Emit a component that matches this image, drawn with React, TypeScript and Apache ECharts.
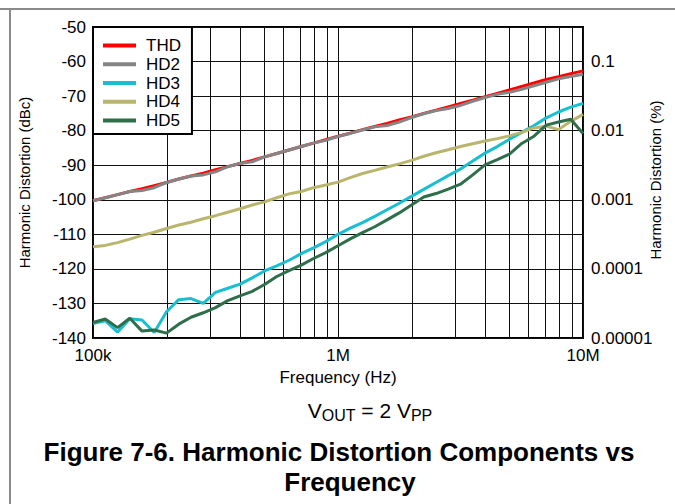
import React, { useEffect, useRef } from 'react';
import * as echarts from 'echarts';

// Frequency points (Hz)
const freqHz = [
  100000, 112200, 125900, 141300, 158500, 177800, 199500, 223900, 251200, 281800,
  316200, 354800, 398100, 446700, 501200, 562300, 631000, 707900, 794300, 891300,
  1000000, 1122000, 1259000, 1413000, 1585000, 1778000, 1995000, 2239000, 2512000, 2818000,
  3162000, 3548000, 3981000, 4467000, 5012000, 5623000, 6310000, 7079000, 7943000, 8913000,
  10000000,
];

// Harmonic distortion (dBc)
const thd = [
  -100.3, -99.4, -98.5, -97.6, -96.8, -95.9, -95.0, -94.0, -93.1, -92.3,
  -91.3, -90.4, -89.5, -88.6, -87.6, -86.6, -85.6, -84.6, -83.6, -82.6,
  -81.6, -80.7, -79.7, -78.8, -77.9, -76.9, -76.0, -75.0, -74.1, -73.1,
  -72.1, -71.2, -70.2, -69.2, -68.2, -67.2, -66.2, -65.2, -64.4, -63.5,
  -62.7,
];
const hd2 = [
  -100.3, -99.4, -98.5, -97.6, -97.3, -96.5, -95.0, -94.0, -93.1, -92.8,
  -91.9, -90.4, -89.5, -89.0, -87.6, -86.6, -85.6, -84.6, -83.6, -82.8,
  -81.7, -80.8, -79.8, -78.9, -78.5, -77.5, -76.2, -75.1, -74.2, -73.6,
  -72.7, -71.5, -70.4, -69.5, -68.9, -68.0, -67.0, -66.0, -65.0, -64.3,
  -63.7,
];
const hd3 = [
  -135.8, -135.0, -138.3, -134.4, -134.8, -138.4, -132.4, -128.9, -128.6, -130.0,
  -126.8, -125.6, -124.4, -122.6, -120.6, -119.1, -117.5, -115.6, -113.9, -112.1,
  -110.0, -108.2, -106.6, -104.8, -102.9, -101.0, -99.0, -97.0, -95.0, -93.0,
  -91.1, -88.8, -86.5, -84.6, -82.5, -80.5, -78.5, -76.3, -74.6, -73.2,
  -72.1,
];
const hd4 = [
  -113.6, -113.2, -112.4, -111.4, -110.3, -109.4, -108.3, -107.3, -106.5, -105.5,
  -104.6, -103.6, -102.6, -101.5, -100.6, -99.4, -98.3, -97.6, -96.5, -95.7,
  -94.9, -93.6, -92.4, -91.5, -90.5, -89.6, -88.6, -87.4, -86.4, -85.5,
  -84.6, -83.8, -83.0, -82.3, -81.5, -80.5, -79.2, -78.7, -79.7, -77.3,
  -75.3,
];
const hd5 = [
  -135.5, -134.5, -137.0, -134.3, -138.0, -137.7, -138.6, -136.0, -134.0, -132.7,
  -131.2, -129.2, -127.8, -126.5, -124.5, -122.2, -120.5, -118.9, -117.0, -115.3,
  -113.3, -111.3, -109.5, -107.8, -105.8, -103.8, -101.5, -99.2, -98.2, -96.9,
  -95.5, -92.8, -89.9, -88.4, -86.8, -83.7, -81.6, -78.4, -77.5, -76.7,
  -80.8,
];

// Minor (log) vertical grid positions (Hz)
const minorGridHz = [
  200000, 300000, 400000, 500000, 600000, 700000, 800000, 900000,
  2000000, 3000000, 4000000, 5000000, 6000000, 7000000, 8000000, 9000000,
];

// Tick labels
const xTickLabels: Record<string, string> = { '100000': '100k', '1000000': '1M', '10000000': '10M' };
const percentTickLabels: Record<string, string> = {
  '-60': '0.1', '-80': '0.01', '-100': '0.001', '-120': '0.0001', '-140': '0.00001',
};

const seriesNames = ['THD', 'HD2', 'HD3', 'HD4', 'HD5'];
const seriesColors = ['#ff0000', '#858585', '#17bfd1', '#b9b56c', '#2e6e4b'];
const seriesValues = [thd, hd2, hd3, hd4, hd5];

const FONT = '"Liberation Sans", Arial, Helvetica, sans-serif';

export default function App() {
  const ref = useRef<HTMLDivElement>(null);

  useEffect(() => {
    const chart = echarts.init(ref.current as HTMLDivElement, null, { renderer: 'svg' });

    const series: any[] = seriesNames.map((name, si) => ({
      name,
      type: 'line',
      data: freqHz.map((f, i) => [f, seriesValues[si][i]]),
      symbol: 'none',
      showSymbol: false,
      silent: true,
      clip: true,
      lineStyle: { color: seriesColors[si], width: 3 },
      itemStyle: { color: seriesColors[si] },
      z: 3,
    }));

    series[0].markLine = {
      silent: true,
      symbol: ['none', 'none'],
      z: 1,
      label: { show: false },
      lineStyle: { color: '#111', width: 1, type: 'solid' },
      emphasis: { disabled: true },
      data: minorGridHz.map((f) => ({ xAxis: f })),
    };

    const option: any = {
      animation: false,
      backgroundColor: '#fff',
      textStyle: { fontFamily: FONT },
      grid: {
        left: 93,
        right: 92,
        top: 27,
        height: 311,
        show: true,
        borderColor: '#000',
        borderWidth: 2,
        backgroundColor: 'transparent',
        containLabel: false,
        outerBoundsMode: 'none',
      },
      legend: {
        orient: 'vertical',
        left: 93,
        top: 27,
        data: seriesNames.map((n, i) => ({ name: n, icon: 'rect', itemStyle: { color: seriesColors[i] } })),
        backgroundColor: '#fff',
        borderColor: '#000',
        borderWidth: 2,
        borderRadius: 0,
        padding: [10, 11, 5, 10],
        itemWidth: 33,
        itemHeight: 4,
        itemGap: 1.75,
        selectedMode: false,
        textStyle: { fontFamily: FONT, fontSize: 17, color: '#000', lineHeight: 17, padding: [0, 0, 0, 5] },
        z: 10,
      },
      xAxis: {
        type: 'log',
        logBase: 10,
        min: 100000,
        max: 10000000,
        name: 'Frequency (Hz)',
        nameLocation: 'middle',
        nameGap: 31,
        nameTextStyle: { fontFamily: FONT, fontSize: 17, color: '#000' },
        axisLine: { show: false },
        axisTick: { show: false },
        axisLabel: {
          fontFamily: FONT,
          fontSize: 17,
          color: '#000',
          margin: 9,
          formatter: (v: number) => xTickLabels[String(Math.round(v))] ?? '',
        },
        splitLine: { show: true, lineStyle: { color: '#111', width: 1 } },
      },
      yAxis: [
        {
          type: 'value',
          min: -140,
          max: -50,
          interval: 10,
          name: 'Harmonic Distortion (dBc)',
          nameLocation: 'middle',
          nameGap: 61,
          nameRotate: 90,
          nameTextStyle: { fontFamily: FONT, fontSize: 15, color: '#000' },
          axisLine: { show: false },
          axisTick: { show: false },
          axisLabel: { fontFamily: FONT, fontSize: 17, color: '#000', margin: 7 },
          splitLine: { show: true, lineStyle: { color: '#111', width: 1 } },
        },
        {
          type: 'value',
          position: 'right',
          min: -140,
          max: -50,
          interval: 10,
          axisLine: { show: false },
          axisTick: { show: false },
          axisLabel: {
            fontFamily: FONT,
            fontSize: 17,
            color: '#000',
            margin: 8,
            formatter: (v: number) => percentTickLabels[String(Math.round(v))] ?? '',
          },
          splitLine: { show: false },
        },
      ],
      series,
      graphic: [
        {
          type: 'line',
          silent: true,
          shape: { x1: 0, y1: 9, x2: 675, y2: 9 },
          style: { stroke: '#8a8a8a', lineWidth: 2 },
        },
        {
          type: 'line',
          silent: true,
          shape: { x1: 10, y1: 9, x2: 10, y2: 504 },
          style: { stroke: '#8a8a8a', lineWidth: 2 },
        },
        {
          type: 'text',
          silent: true,
          x: 655,
          y: 180,
          rotation: Math.PI / 2,
          style: {
            text: 'Harmonic Distortion (%)',
            align: 'center',
            verticalAlign: 'middle',
            fill: '#000',
            font: '15px ' + FONT,
          },
        },
        {
          type: 'text',
          silent: true,
          x: 370,
          y: 410,
          style: {
            text: '{n|V}{s|OUT}{n| = 2 V}{s|PP}',
            align: 'center',
            verticalAlign: 'middle',
            fill: '#000',
            font: '21px ' + FONT,
            rich: {
              n: { fontFamily: FONT, fontSize: 21, fill: '#000' } as any,
              s: { fontFamily: FONT, fontSize: 16, fill: '#000', padding: [10, 0, 0, 0] } as any,
            },
          },
        },
        {
          type: 'text',
          silent: true,
          x: 339,
          y: 452,
          style: {
            text: 'Figure 7-6. Harmonic Distortion Components vs',
            align: 'center',
            verticalAlign: 'middle',
            fill: '#000',
            font: 'bold 26px ' + FONT,
          },
        },
        {
          type: 'text',
          silent: true,
          x: 350,
          y: 482,
          style: {
            text: 'Frequency',
            align: 'center',
            verticalAlign: 'middle',
            fill: '#000',
            font: 'bold 26px ' + FONT,
          },
        },
      ],
    };

    chart.setOption(option);
    return () => chart.dispose();
  }, []);

  return (
    <div
      ref={ref}
      style={{ position: 'absolute', left: 0, top: 0, width: 675, height: 504, background: '#fff' }}
    />
  );
}
